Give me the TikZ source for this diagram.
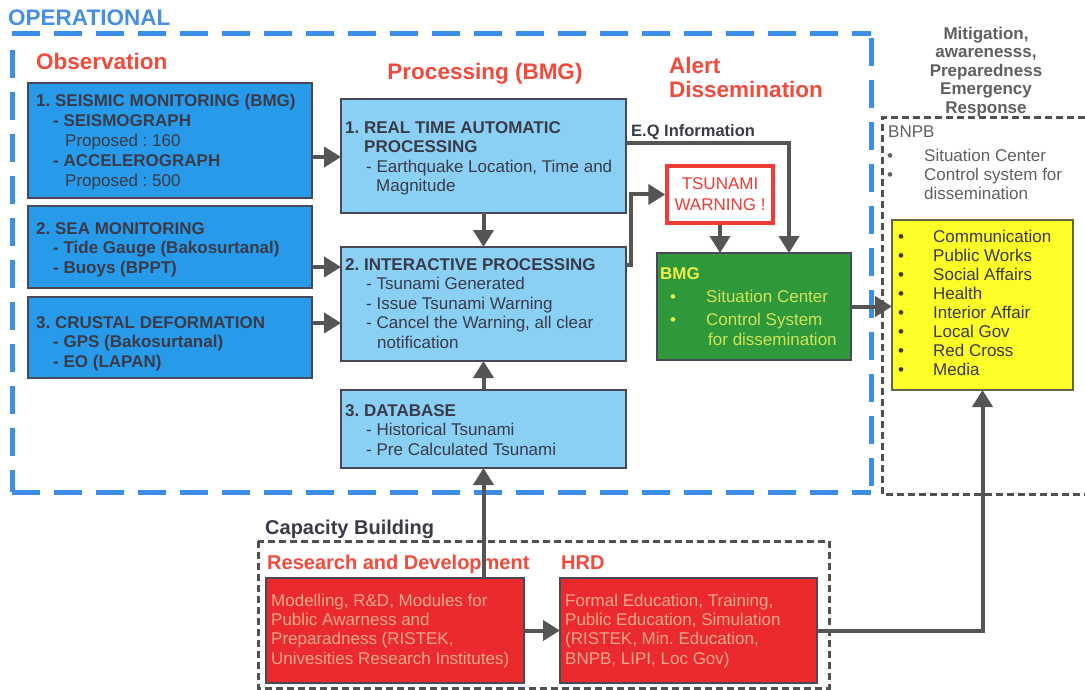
\documentclass[tikz,border=0pt]{standalone}
\usepackage{fontspec}
\setmainfont{Liberation Sans}
\usetikzlibrary{arrows.meta}
\frenchspacing
\definecolor{opblue}{RGB}{72,143,228}
\definecolor{dashblue}{RGB}{58,141,232}
\definecolor{obsfill}{RGB}{40,154,234}
\definecolor{procfill}{RGB}{138,208,244}
\definecolor{bordc}{RGB}{72,72,88}
\definecolor{darktext}{RGB}{58,58,72}
\definecolor{redtitle}{RGB}{242,75,59}
\definecolor{arrowc}{RGB}{85,85,85}
\definecolor{bmggreen}{RGB}{46,152,58}
\definecolor{bmgtext}{RGB}{208,228,90}
\definecolor{bmgtitle}{RGB}{236,240,74}
\definecolor{yel}{RGB}{253,253,40}
\definecolor{yelborder}{RGB}{100,100,70}
\definecolor{redbox}{RGB}{234,42,44}
\definecolor{redtext}{RGB}{247,167,140}
\definecolor{graytext}{RGB}{95,95,95}
\definecolor{dashgray}{RGB}{80,80,80}
\definecolor{tsured}{RGB}{240,60,55}
\begin{document}
\begin{tikzpicture}[x=1pt,y=-1pt,
  box/.style={draw=bordc, line width=1.3pt, anchor=north west, inner sep=0pt, outer sep=0pt},
  obsbox/.style={box, fill=obsfill},
  procbox/.style={box, fill=procfill},
  txt/.style={anchor=north west, inner sep=0pt, align=left, text=darktext, font=\fontsize{17}{19.5}\selectfont},
  btxt/.style={txt, font=\fontsize{17}{19.5}\selectfont\bfseries},
  head/.style={anchor=base west, inner sep=0pt, font=\fontsize{22.5}{23}\selectfont\bfseries},
  subhead/.style={anchor=base west, inner sep=0pt, font=\fontsize{20}{22}\selectfont\bfseries},
  arr/.style={draw=arrowc, line width=4pt, -{Triangle[length=17pt,width=20pt]}},
  bluedash/.style={draw=dashblue, line width=5pt, dash pattern=on 28pt off 14pt},
  graydash/.style={draw=dashgray, line width=3pt, dash pattern=on 7pt off 4pt}
]
\useasboundingbox (0,0) rectangle (1085,690);

% frames
\draw[bluedash] (12,34) -- (871,34);
\draw[bluedash] (871,38) -- (871,492);
\draw[bluedash] (12,492) -- (871,492);
\draw[bluedash] (12,50) -- (12,492);
\draw[graydash] (1085,118) -- (882,118) -- (882,494) -- (1085,494);
\draw[graydash] (258,541) rectangle (829,688);

% titles
\node[head, text=opblue] (optitle) at (8,26) {OPERATIONAL};
\node[head, text=redtitle] (obstitle) at (36,70) {Observation};
\node[head, text=redtitle, anchor=base] (proctitle) at (485,80) {Processing (BMG)};
\node[anchor=north west, inner sep=0pt, align=left, text=redtitle, font=\fontsize{22.5}{23}\selectfont\bfseries] (alerttitle) at (669,56.9) {\strut Alert\\Dissemination};
\node[anchor=north, inner sep=0pt, align=center, text=graytext, font=\fontsize{17}{18.5}\selectfont\bfseries] (mittitle) at (986,26.2) {\strut Mitigation,\\awarenesss,\\Preparedness\\Emergency\\Response};
\node[subhead, text=darktext] (captitle) at (265,534) {Capacity Building};
\node[subhead, text=redtitle] (rdtitle) at (267,569) {Research and Development};
\node[subhead, text=redtitle] (hrdtitle) at (561,569) {HRD};
\node[anchor=base west, inner sep=0pt, text=darktext, font=\fontsize{16.5}{19}\selectfont\bfseries] (eqlabel) at (631,137) {E.Q Information};

% observation boxes
\node[obsbox, minimum width=284pt, minimum height=115pt] (o1) at (28,83) {};
\node[obsbox, minimum width=284pt, minimum height=82pt] (o2) at (28,206) {};
\node[obsbox, minimum width=284pt, minimum height=81pt] (o3) at (28,297) {};
\node[btxt, font=\fontsize{17}{20}\selectfont\bfseries] (o1t) at (36,92) {\strut 1. SEISMIC MONITORING (BMG)\\\hspace*{17pt}- SEISMOGRAPH\\\hspace*{29pt}{\mdseries Proposed : 160}\\\hspace*{17pt}- ACCELEROGRAPH\\\hspace*{29pt}{\mdseries Proposed : 500}};
\node[btxt] (o2t) at (36,220.5) {\strut 2. SEA MONITORING\\\hspace*{17pt}- Tide Gauge (Bakosurtanal)\\\hspace*{17pt}- Buoys (BPPT)};
\node[btxt] (o3t) at (36,314.5) {\strut 3. CRUSTAL DEFORMATION\\\hspace*{17pt}- GPS (Bakosurtanal)\\\hspace*{17pt}- EO (LAPAN)};

% processing boxes
\node[procbox, minimum width=285pt, minimum height=114pt] (p1) at (341,99) {};
\node[procbox, minimum width=285pt, minimum height=114pt] (p2) at (341,247) {};
\node[procbox, minimum width=285pt, minimum height=78pt] (p3) at (341,390) {};
\node[txt] (p1t) at (345,119.5) {\strut\textbf{1. REAL TIME AUTOMATIC}\\\hspace*{19pt}\textbf{PROCESSING}\\\hspace*{21pt}- Earthquake Location, Time and\\\hspace*{31pt}Magnitude};
\node[txt] (p2t) at (345,256.5) {\strut\textbf{2. INTERACTIVE PROCESSING}\\\hspace*{21pt}- Tsunami Generated\\\hspace*{21pt}- Issue Tsunami Warning\\\hspace*{21pt}- Cancel the Warning, all clear\\\hspace*{32pt}notification};
\node[txt] (p3t) at (345,402.5) {\strut\textbf{3. DATABASE}\\\hspace*{21pt}- Historical Tsunami\\\hspace*{21pt}- Pre Calculated Tsunami};

% alert
\node[draw=tsured, fill=white, line width=3.5pt, inner sep=0pt, minimum width=106pt, minimum height=57pt, align=center, text=tsured, font=\fontsize{17}{21}\selectfont] (tsu) at (720,194.5) {TSUNAMI\\WARNING !};
\node[box, fill=bmggreen, minimum width=194pt, minimum height=107pt] (bmg) at (657,253) {};
\node[anchor=base west, inner sep=0pt, text=bmgtitle, font=\fontsize{17}{19.5}\selectfont\bfseries] (bmgt) at (660,279) {BMG};
\node[txt, text=bmgtitle, font=\fontsize{17}{20}\selectfont] (bmgb) at (670,288.5) {\strut\textbullet\\[3pt]\textbullet};
\node[txt, text=bmgtext, font=\fontsize{17}{20}\selectfont] (bmgl) at (706,288.5) {\strut Situation Center\\[3pt]Control System\\\hspace*{2pt}for dissemination};

% BNPB
\node[txt, text=graytext] (bnpb) at (888,123.5) {\strut BNPB};
\node[txt, text=graytext, font=\fontsize{17}{19}\selectfont] (bnpbb) at (887,148.5) {\strut\textbullet\\\textbullet};
\node[txt, text=graytext, font=\fontsize{17}{19}\selectfont] (bnpbl) at (924,148.5) {\strut Situation Center\\Control system for\\dissemination};

% yellow box
\node[box, draw=yelborder, fill=yel, minimum width=181pt, minimum height=170pt] (yel) at (892,220) {};
\node[txt, font=\fontsize{17}{19.1}\selectfont] (yelb) at (898,228.7) {\strut\textbullet\\\textbullet\\\textbullet\\\textbullet\\\textbullet\\\textbullet\\\textbullet\\\textbullet};
\node[txt, font=\fontsize{17}{19.1}\selectfont] (yell) at (933,228.7) {\strut Communication\\Public Works\\Social Affairs\\Health\\Interior Affair\\Local Gov\\Red Cross\\Media};

% capacity building
\node[box, fill=redbox, minimum width=258pt, minimum height=105pt] (rd) at (266,578) {};
\node[box, fill=redbox, minimum width=257pt, minimum height=105pt] (hrd) at (560,578) {};
\node[txt, text=redtext, font=\fontsize{17}{19.3}\selectfont] (rdt) at (271,592.6) {\strut Modelling, R\&D, Modules for\\Public Awarness and\\Preparadness (RISTEK,\\Univesities Research Institutes)};
\node[txt, text=redtext, font=\fontsize{17}{19.3}\selectfont] (hrdt) at (565,592.6) {\strut Formal Education, Training,\\Public Education, Simulation\\(RISTEK, Min. Education,\\BNPB, LIPI, Loc Gov)};

% connector levels
\coordinate (l1) at (0,157);
\coordinate (l2) at (0,267);
\coordinate (l3) at (0,323);
\coordinate (eqc) at (789,143);
\coordinate (twc) at (631,265);

% connectors
\draw[arr] (o1.east |- l1) -- (p1.west |- l1);
\draw[arr] (o2.east |- l2) -- (p2.west |- l2);
\draw[arr] (o3.east |- l3) -- (p2.west |- l3);
\draw[arr] (p1.south) -- (p2.north);
\draw[arr] (p3.north) -- (p2.south);
\draw[arr] (p3.south |- rd.north) -- (p3.south);
\draw[arr] (p1.east |- eqc) -- (eqc) -- (bmg.north -| eqc);
\draw[arr] (p2.east |- twc) -- (twc) |- (tsu.west);
\draw[arr] (tsu.south) -- (tsu.south |- bmg.north);
\draw[arr] (bmg.east) -- (yel.west |- bmg.east);
\draw[arr] (rd.east) -- (hrd.west);
\draw[arr] (hrd.east) -| (yel.south);
\end{tikzpicture}
\end{document}
